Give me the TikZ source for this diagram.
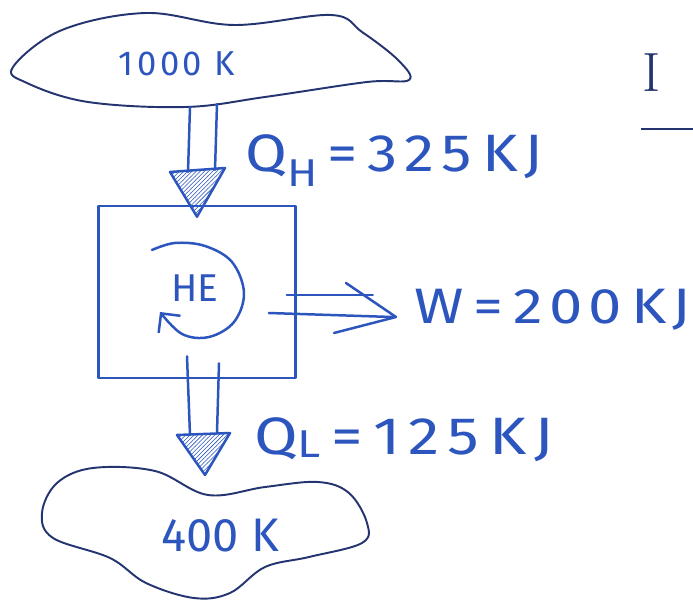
\documentclass[tikz,border=0pt]{standalone}
\usepackage{fontspec}
\newfontfamily\hand{Fira Sans}
\usetikzlibrary{arrows.meta, patterns, calc}
\definecolor{ink}{RGB}{44,86,190}
\definecolor{rim}{RGB}{36,52,112}
\tikzset{
  res/.style={draw=rim, line width=1.4pt},
  pen/.style={draw=ink, line width=1.8pt, line cap=round, line join=round},
  tiphead/.style={pen, pattern=north east lines, pattern color=ink},
  lbl/.style={text=ink, font=\hand, inner sep=0pt}
}

\begin{document}
\begin{tikzpicture}[x=0.01in,y=-0.01in]
\useasboundingbox (0,0) rectangle (693,600);
\draw[res] plot[smooth cycle, tension=0.6] coordinates {(13,67) (62,30) (146,13) (234,25) (331,15) (362,32) (398,60) (409,80) (367,82) (265,97) (186,107) (88,102) (27,83)};
\node[lbl, font=\hand\fontsize{25}{25}\selectfont\addfontfeatures{LetterSpace=10}] (hot) at (177,64) {1000 K};
\coordinate (hotout) at (203,106);
\node[pen, minimum width=1.97in, minimum height=1.72in] (he) at (197,292) {};
\node[lbl, font=\hand\fontsize{28}{28}\selectfont] (hetxt) at (195,288) {HE};
\draw[pen, -{Straight Barb[length=10pt, width=20pt]}] plot[smooth, tension=0.6] coordinates {(152,250) (175,243) (205,246) (232,262) (244,293) (234,322) (209,337) (182,334) (160,312)};
\draw[pen] ($(hotout)+(-13,1)$) -- ++(-2,65);
\draw[pen] ($(hotout)+(14,-2)$) -- ++(-2,66);
\draw[tiphead] (170,172) -- (225,168) -- ($(he.north)+(0,12)$) -- cycle;
\node[lbl, anchor=base west, font=\hand\fontsize{38}{38}\selectfont\addfontfeatures{LetterSpace=12}] (qh) at (245,172) {\scalebox{1.15}[1]{Q\raisebox{-0.28em}{\fontsize{28}{28}\selectfont H}\,=\,325\,KJ}};
\coordinate (wtip) at (396,317);
\draw[pen] ($(he.east)+(-10,3)$) -- ++(86,0);
\draw[pen] ($(he.east)+(-28,21)$) -- ($(wtip)+(-4,0)$);
\draw[pen] (346,283) -- (wtip) -- (334,333);
\node[lbl, anchor=base west, font=\hand\fontsize{36}{36}\selectfont\addfontfeatures{LetterSpace=10}] (w) at (414,324) {\scalebox{1.2}[1]{W\,=\,200\,KJ}};
\draw[pen] ($(he.south)+(-10,-23)$) -- (190,435);
\draw[pen] ($(he.south)+(22,-16)$) -- (217,433);
\draw[tiphead] (177,435) -- (230,433) -- (205,475) -- cycle;
\node[lbl, anchor=base west, font=\hand\fontsize{38}{38}\selectfont\addfontfeatures{LetterSpace=12}] (ql) at (254,455) {\scalebox{1.2}[1]{Q\raisebox{-0.05em}{\fontsize{28}{28}\selectfont L}\,=\,125\,KJ}};
\draw[res] plot[smooth cycle, tension=0.6] coordinates {(42,513) (57,483) (93,468) (155,471) (208,495) (265,487) (318,482) (349,493) (367,523) (362,543) (309,557) (265,567) (230,593) (194,598) (146,583) (110,558) (53,538)};
\node[lbl, anchor=base, font=\hand\fontsize{34}{34}\selectfont] (cold) at (220,552) {400 K};
\node[text=rim, anchor=base west, font=\fontsize{40}{40}\selectfont, inner sep=0pt] (mark) at (642,92) {I};
\draw[rim, line width=1.2pt] (641,129) -- (693,129);
\end{tikzpicture}
\end{document}
